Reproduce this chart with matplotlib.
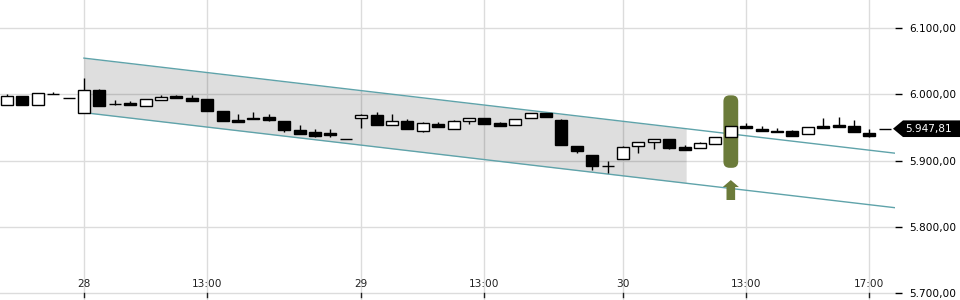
import matplotlib
matplotlib.use("Agg")
import matplotlib.pyplot as plt
from matplotlib.patches import Rectangle, FancyBboxPatch, Polygon, FancyArrow
from matplotlib.ticker import FuncFormatter
import matplotlib.transforms as mtransforms
import numpy as np

# candle data (index 0 = first candle of the 28th)
first_idx = -5
opens  = [5983, 5996.5, 5983, 6000.5, 5993.5, 5971, 6005.5, 5984.5, 5986, 5981.5,
          5990.5, 5997, 5994, 5992.5, 5974.5, 5961.5, 5964, 5965.5, 5959.5, 5946,
          5943, 5942, 5933, 5963.5, 5968.5, 5953, 5959.5, 5944, 5954.5, 5947.5,
          5959, 5964, 5956.5, 5953, 5963.5, 5971.5, 5961, 5922, 5908, 5891,
          5902, 5921.5, 5928, 5932, 5921, 5918.5, 5924.5, 5935, 5952.5, 5948,
          5945, 5945, 5939.5, 5952.5, 5954, 5952, 5942, 5947.81]
highs  = [6000, 5996.5, 6001, 6002.5, 5993.5, 6024, 6007.5, 5990.5, 5989, 5992,
          5998.5, 5998.5, 5998.5, 5992.5, 5974.5, 5969.5, 5973, 5970, 5959.5, 5953.5,
          5948, 5947, 5933, 5969.5, 5972.5, 5969.5, 5962.5, 5958, 5957.5, 5961.5,
          5963.5, 5964, 5958, 5962.5, 5971, 5971.5, 5963, 5922, 5908, 5899,
          5922, 5927.5, 5932, 5933, 5923, 5928, 5935, 5951.5, 5956, 5951.5,
          5949, 5946.5, 5950, 5964, 5965.5, 5961, 5947, 5947.81]
lows   = [5983, 5983, 5983, 5999.5, 5993.5, 5971, 5982.5, 5983, 5984, 5981.5,
          5990.5, 5994.5, 5990, 5975, 5960, 5958.5, 5963, 5960, 5943.5, 5940.5,
          5935.5, 5936, 5933, 5949.5, 5953, 5953, 5947, 5942.5, 5950, 5947.5,
          5955.5, 5955.5, 5951.5, 5953, 5963.5, 5965, 5924, 5912, 5886, 5881,
          5902, 5912, 5918, 5917, 5916, 5918.5, 5924.5, 5935, 5949.5, 5944,
          5942.5, 5937.5, 5939.5, 5949.5, 5951, 5943.5, 5936, 5947.81]
closes = [5996.5, 5983, 6001, 6000, 5993.5, 6005.5, 5982.5, 5984.5, 5984, 5992,
          5995, 5994.5, 5990, 5975, 5960, 5958.5, 5963, 5961.5, 5945.5, 5940.5,
          5937, 5938.5, 5933, 5968, 5953, 5959.5, 5947, 5956, 5950, 5959.5,
          5963.5, 5955.5, 5951.5, 5962.5, 5971, 5965, 5924, 5914, 5891, 5891,
          5920, 5927.5, 5932, 5918.5, 5916, 5926, 5935, 5951.5, 5949.5, 5944,
          5942.5, 5937.5, 5950, 5949.5, 5951, 5943.5, 5937.5, 5947.81]

tick_pos = [0, 8, 18, 26, 35, 43, 51]
tick_labels = ['28', '13:00', '29', '13:00', '30', '13:00', '17:00']
y_ticks = [5700, 5800, 5900, 6000, 6100]

# trend channel
chan_x = [0, 52.66]
chan_upper = [6054, 5911]
chan_lower = [5972, 5829]
chan_fill_end = 39.1

signal_idx = 42
last_price = 5947.81

green = '#6b7b3a'

fig = plt.figure(figsize=(9.6, 3.0), dpi=100)
ax = fig.add_axes([0, 0, 895/960, 1])
ax.set_xlim(-5.45, 52.66)
ax.set_ylim(5690.2, 6141.4)

for s in ax.spines.values():
    s.set_visible(False)

# grid
for yv in y_ticks:
    ax.axhline(yv, color='#dcdcdc', lw=1, zorder=0)
for xv in tick_pos:
    ax.axvline(xv, color='#dcdcdc', lw=1, zorder=0)

# channel
xs = np.linspace(chan_x[0], chan_fill_end, 2)
up = np.interp(xs, chan_x, chan_upper)
lo = np.interp(xs, chan_x, chan_lower)
ax.fill_between(xs, lo, up, color='black', alpha=0.13, lw=0, zorder=1)
ax.plot(chan_x, chan_upper, color='#5fa3aa', lw=1, zorder=2)
ax.plot(chan_x, chan_lower, color='#5fa3aa', lw=1, zorder=2)

# highlight on signal candle
hl = FancyBboxPatch((signal_idx - 0.48, 5889), 0.96, 109,
                    boxstyle='round,pad=0,rounding_size=0.4',
                    mutation_aspect=23, fc=green, ec='none', zorder=3)
ax.add_patch(hl)
ax.add_patch(FancyArrow(signal_idx, 5840.6, 0, 30, width=0.56, head_width=1.05,
                        head_length=10.5, length_includes_head=True,
                        fc=green, ec='none', zorder=3))

# candles
bw = 0.78
for k in range(len(opens)):
    x = first_idx + k
    o, h, l, c = opens[k], highs[k], lows[k], closes[k]
    ax.plot([x, x], [l, h], color='black', lw=1, zorder=4, solid_capstyle='butt')
    fc = 'white' if c > o else 'black'
    ax.add_patch(Rectangle((x - bw/2, min(o, c)), bw, abs(c - o),
                           fc=fc, ec='black', lw=1, zorder=5))

# x labels inside plot
for xv, lab in zip(tick_pos, tick_labels):
    ax.text(xv, 5700, lab, ha='center', va='bottom', fontsize=7.6, color='#222222',
            transform=mtransforms.offset_copy(ax.transData, fig=fig, x=0, y=4, units='dots'))
    ax.plot([xv, xv], [5700, 5694], color='#222222', lw=1, zorder=4, clip_on=False)
ax.set_xticks([])

# y axis on right
ax.yaxis.tick_right()
ax.set_yticks(y_ticks)
ax.yaxis.set_major_formatter(FuncFormatter(
    lambda v, p: f"{v:,.2f}".replace(',', 'X').replace('.', ',').replace('X', '.')))
ax.tick_params(axis='y', length=5, width=1, pad=5, labelsize=7.6, colors='black')

# last price tag
trans = mtransforms.blended_transform_factory(fig.transFigure, ax.transData)
tag = Polygon([(893/960, last_price), (903/960, last_price + 12.5),
               (960/960, last_price + 12.5), (960/960, last_price - 12.5),
               (903/960, last_price - 12.5)], closed=True, fc='black', ec='none',
              transform=trans, clip_on=False, zorder=6)
ax.add_patch(tag)
ax.text(905/960, last_price, "5.947,81", color='white', fontsize=7.6, va='center',
        ha='left', transform=trans, zorder=7)

fig.savefig('out.png', dpi=100)
